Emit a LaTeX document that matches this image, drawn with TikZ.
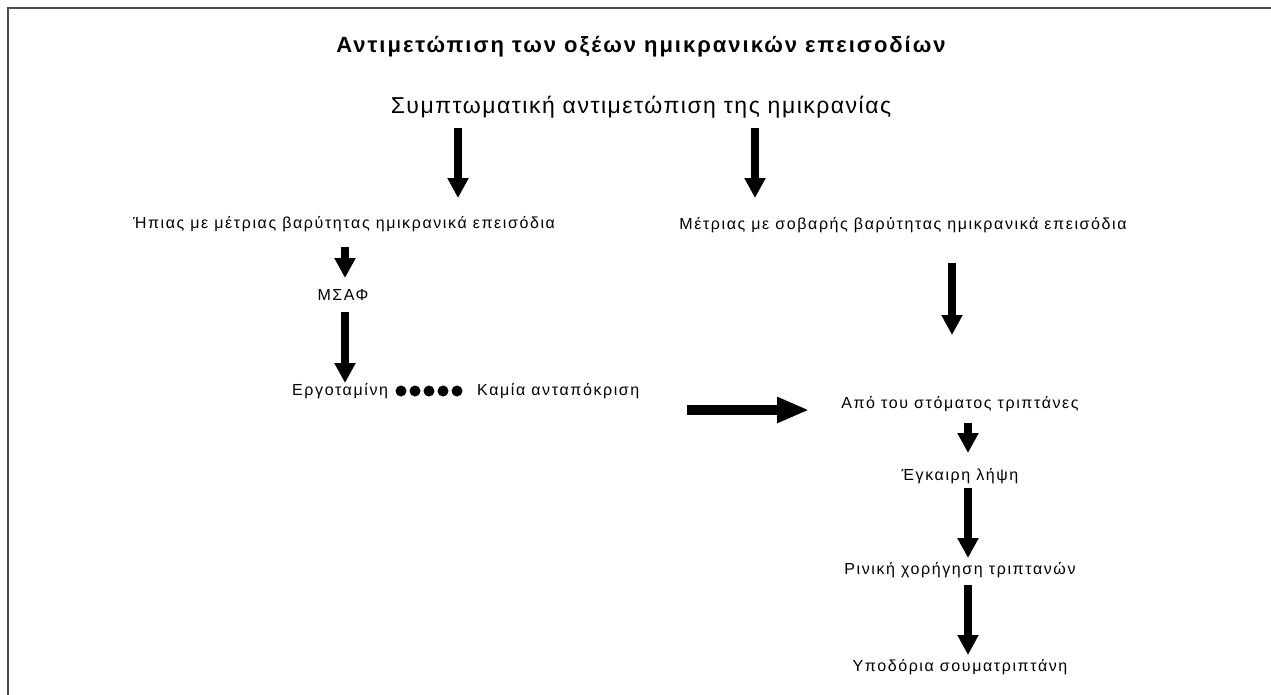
\documentclass[tikz,border=0pt]{standalone}
\usepackage{fontspec}
\setmainfont{Liberation Sans}
\newfontfamily\widefont[LetterSpace=10]{Liberation Sans}
\newfontfamily\ttlfont[LetterSpace=9]{Liberation Sans}
\newfontfamily\subfont[LetterSpace=6.5]{Liberation Sans}
\usetikzlibrary{arrows.meta,positioning,calc}
\tikzset{
  lbl/.style={inner sep=0pt,font=\widefont\fontsize{16}{18}\selectfont},
  ttlnode/.style={inner sep=0pt,font=\ttlfont\bfseries\fontsize{22}{24}\selectfont},
  subnode/.style={inner sep=0pt,font=\subfont\fontsize{23}{25}\selectfont},
  fatarr/.style={-{Triangle[width=20pt,length=20pt]},line width=7.5pt},
  bigarr/.style={-{Triangle[width=24pt,length=32pt]},line width=10pt},
  dotmark/.style={circle,fill=black,inner sep=0pt,minimum size=11pt}
}
\begin{document}
\begin{tikzpicture}[x=1pt,y=-1pt]
  \useasboundingbox (0,0) rectangle (1271,694);
  \draw[line width=2pt,black!70] (8,8) rectangle (1290,710);

  % headings
  \node[ttlnode] (ttl) at (641,47) {Αντιμετώπιση των οξέων ημικρανικών επεισοδίων};
  \node[subnode] (sub) at (641,107) {Συμπτωματική αντιμετώπιση της ημικρανίας};

  % left branch
  \node[lbl] (hpias) at (344,224) {Ήπιας με μέτριας βαρύτητας ημικρανικά επεισόδια};
  \node[lbl] (msaf) at (343,295) {ΜΣΑΦ};
  \node[lbl,anchor=west] (ergo) at (292,391) {Εργοταμίνη};
  \foreach \i in {0,...,4}
    \node[dotmark] (d\i) at (401+\i*14,391) {};
  \node[lbl,anchor=west] (kamia) at (477,391) {Καμία ανταπόκριση};

  % right branch
  \node[lbl] (metr) at (903,225) {Μέτριας με σοβαρής βαρύτητας ημικρανικά επεισόδια};
  \node[lbl] (apo) at (960,404) {Από του στόματος τριπτάνες};
  \node[lbl] (egk) at (960,476) {Έγκαιρη λήψη};
  \node[lbl] (rin) at (960,570) {Ρινική χορήγηση τριπτανών};
  \node[lbl] (ypo) at (960,667) {Υποδόρια σουματριπτάνη};

  % arrow columns
  \coordinate (xa) at (458,0);
  \coordinate (xb) at (755,0);
  \coordinate (xc) at (345,0);
  \coordinate (xd) at (952,0);
  \coordinate (xe) at (968,0);

  \draw[fatarr] ($(sub.center -| xa)+(0,21)$) -- ($(hpias.center -| xa)+(0,-26)$);
  \draw[fatarr] ($(sub.center -| xb)+(0,21)$) -- ($(metr.center -| xb)+(0,-27)$);
  \draw[fatarr] ($(hpias.center -| xc)+(0,23)$) -- ($(msaf.center -| xc)+(0,-17)$);
  \draw[fatarr] ($(msaf.center -| xc)+(0,17)$) -- ($(ergo.center -| xc)+(0,-8)$);
  \draw[fatarr] ($(metr.center -| xd)+(0,38)$) -- ($(apo.center -| xd)+(0,-69)$);
  \draw[bigarr] ($(kamia.east)+(47,19)$) -- ($(apo.west)+(-32,6)$);
  \draw[fatarr] ($(apo.center -| xe)+(0,19)$) -- ($(egk.center -| xe)+(0,-23)$);
  \draw[fatarr] ($(egk.center -| xe)+(0,12)$) -- ($(rin.center -| xe)+(0,-12)$);
  \draw[fatarr] ($(rin.center -| xe)+(0,15)$) -- ($(ypo.center -| xe)+(0,-12)$);
\end{tikzpicture}
\end{document}
